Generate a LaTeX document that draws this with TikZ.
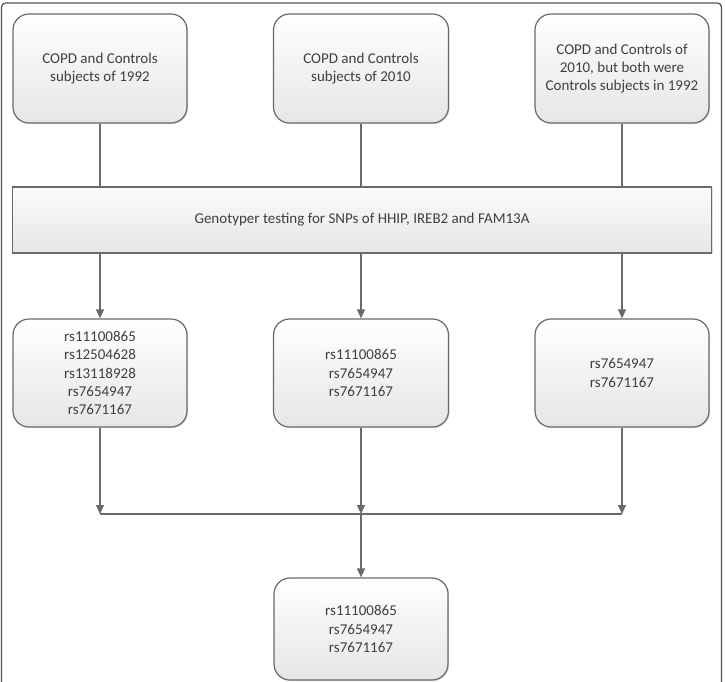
\documentclass[tikz,border=0pt]{standalone}
\usepackage{fontspec}
\setmainfont{Carlito}
\usetikzlibrary{arrows.meta,shadows}
\definecolor{linegray}{HTML}{6A6A6A}
\definecolor{framegray}{HTML}{555555}
\definecolor{textgray}{HTML}{3F3F3F}
\definecolor{fillbot}{HTML}{E6E6E6}
\tikzset{
  rbox/.style={draw=linegray, line width=1.2pt, rounded corners=16pt,
    top color=white, bottom color=fillbot,
    drop shadow={shadow xshift=1.2pt, shadow yshift=-1.2pt, opacity=0.25, fill=gray},
    align=center, text=textgray, inner sep=0pt,
    font=\fontsize{15}{18.3}\selectfont},
  barbox/.style={draw=linegray, line width=1.2pt,
    top color=white!97!gray, bottom color=fillbot,
    drop shadow={shadow xshift=1.2pt, shadow yshift=-1.2pt, opacity=0.25, fill=gray},
    align=center, text=textgray, inner sep=0pt,
    font=\fontsize{15}{18.3}\selectfont},
  conn/.style={draw=linegray, line width=1.2pt},
  arr/.style={conn, -{Triangle[length=9pt,width=8pt]}},
}
\begin{document}
\begin{tikzpicture}[x=1pt,y=-1pt]
\useasboundingbox (0,0) rectangle (725,681);
% outer frame
\draw[framegray, line width=1.3pt, rounded corners=4pt] (1.5,690) -- (1.5,3) -- (721.5,3) -- (721.5,690);

% top boxes
\node[rbox, minimum width=174pt, minimum height=109pt] (t1) at (100,68.5) {COPD and Controls\\subjects of 1992};
\node[rbox, minimum width=175pt, minimum height=109pt] (t2) at (361,68.5) {COPD and Controls\\subjects of 2010};
\node[rbox, minimum width=174pt, minimum height=109pt] (t3) at (622,68.5) {COPD and Controls of\\2010, but both were\\Controls subjects in 1992};

% bar
\node[barbox, minimum width=699pt, minimum height=66pt] (bar) at (362,220) {Genotyper testing for SNPs of HHIP, IREB2 and FAM13A};

% middle boxes
\node[rbox, minimum width=174pt, minimum height=108pt] (m1) at (100,373) {rs11100865\\rs12504628\\rs13118928\\rs7654947\\rs7671167};
\node[rbox, minimum width=175pt, minimum height=108pt] (m2) at (361,373) {rs11100865\\rs7654947\\rs7671167};
\node[rbox, minimum width=174pt, minimum height=108pt] (m3) at (622,373) {rs7654947\\rs7671167};

% bottom box
\node[rbox, minimum width=174pt, minimum height=102pt] (b) at (361,629) {rs11100865\\rs7654947\\rs7671167};

\coordinate (j) at (361,514);

% connectors top -> bar
\draw[conn] (t1.south) -- (t1.south |- bar.north);
\draw[conn] (t2.south) -- (t2.south |- bar.north);
\draw[conn] (t3.south) -- (t3.south |- bar.north);

% bar -> middle
\draw[arr] (bar.south -| m1.north) -- (m1.north);
\draw[arr] (bar.south -| m2.north) -- (m2.north);
\draw[arr] (bar.south -| m3.north) -- (m3.north);

% middle -> join line
\draw[conn] (m1.south |- j) -- (m3.south |- j);
\draw[arr] (m1.south) -- (m1.south |- j);
\draw[arr] (m2.south) -- (j);
\draw[arr] (m3.south) -- (m3.south |- j);

% join -> bottom
\draw[arr] (j) -- (b.north);
\end{tikzpicture}
\end{document}
